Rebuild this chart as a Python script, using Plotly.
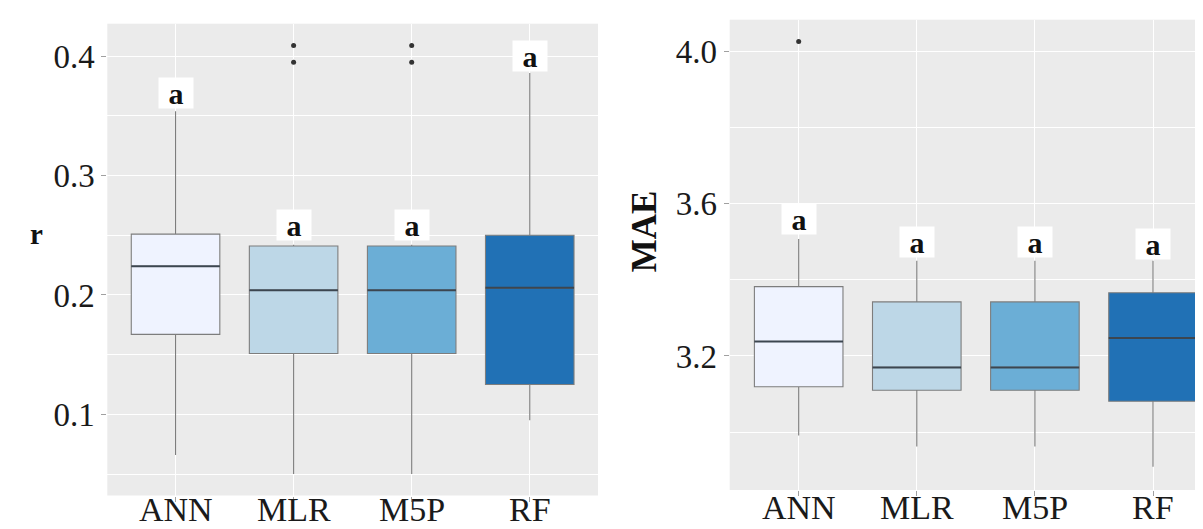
import plotly.graph_objects as go

# ---------------- data ----------------
categories = ["ANN", "MLR", "M5P", "RF"]
positions = [1, 2, 3, 4]
fill_colors = ["#EFF3FF", "#BDD7E7", "#6BAED6", "#2171B5"]

# Panel 1: r
r_lower = [0.066, 0.050, 0.050, 0.095]
r_q1 = [0.167, 0.151, 0.151, 0.125]
r_median = [0.224, 0.204, 0.204, 0.206]
r_q3 = [0.251, 0.241, 0.241, 0.250]
r_upper = [0.354, 0.242, 0.242, 0.386]
r_outlier_x = [2, 2, 3, 3]
r_outlier_y = [0.395, 0.409, 0.395, 0.409]
r_letters = ["a", "a", "a", "a"]
r_letter_y = [0.369, 0.2585, 0.2585, 0.400]

# Panel 2: MAE
mae_lower = [2.991, 2.962, 2.962, 2.909]
mae_q1 = [3.119, 3.110, 3.110, 3.081]
mae_median = [3.238, 3.170, 3.170, 3.247]
mae_q3 = [3.382, 3.342, 3.342, 3.366]
mae_upper = [3.507, 3.450, 3.450, 3.450]
mae_outlier_x = [1]
mae_outlier_y = [4.026]
mae_letters = ["a", "a", "a", "a"]
mae_letter_y = [3.559, 3.500, 3.498, 3.493]

r_ticks = [0.1, 0.2, 0.3, 0.4]
mae_ticks = [3.2, 3.6, 4.0]

# ---------------- style ----------------
FONT = "Liberation Serif"
BOX_WIDTH = 0.75
PANEL_BG = "#EBEBEB"
W, H = 1203, 529

fig = go.Figure()


def add_panel(xa, ya, lower, q1, med, q3, upper, ox, oy, letters, ly, label_base):
    for i, pos in enumerate(positions):
        fig.add_trace(go.Box(
            x=[pos], q1=[q1[i]], median=[med[i]], q3=[q3[i]],
            lowerfence=[lower[i]], upperfence=[upper[i]],
            orientation="v", width=BOX_WIDTH, whiskerwidth=0,
            fillcolor=fill_colors[i], line=dict(color="#7d7d7d", width=1.1),
            boxpoints=False, showlegend=False, xaxis=xa, yaxis=ya,
            name=categories[i]))
    mx, my = [], []
    for i, pos in enumerate(positions):
        mx += [pos - BOX_WIDTH / 2, pos + BOX_WIDTH / 2, None]
        my += [med[i], med[i], None]
    fig.add_trace(go.Scatter(x=mx, y=my, mode="lines",
                             line=dict(color="#3c4650", width=2),
                             showlegend=False, hoverinfo="skip",
                             xaxis=xa, yaxis=ya))
    fig.add_trace(go.Scatter(x=ox, y=oy, mode="markers",
                             marker=dict(color="#333333", size=5),
                             showlegend=False, xaxis=xa, yaxis=ya))
    xref = "x" if xa == "x" else "x2"
    yref = "y" if ya == "y" else "y2"
    for i, pos in enumerate(positions):
        fig.add_annotation(x=pos, y=ly[i], xref=xref, yref=yref,
                           text="<b>%s</b>" % letters[i], showarrow=False,
                           font=dict(family=FONT, size=30, color="#111111"),
                           bgcolor="white", width=32, height=28,
                           xanchor="center", yanchor="middle")
    # category labels (x tick labels)
    for i, pos in enumerate(positions):
        fig.add_annotation(x=pos, y=1 - label_base / H, xref=xref, yref="paper",
                           text=categories[i], showarrow=False, borderpad=0,
                           font=dict(family=FONT, size=34, color="#1a1a1a"),
                           xanchor="center", yanchor="bottom")


add_panel("x", "y", r_lower, r_q1, r_median, r_q3, r_upper,
          r_outlier_x, r_outlier_y, r_letters, r_letter_y, 521.0)
add_panel("x2", "y2", mae_lower, mae_q1, mae_median, mae_q3, mae_upper,
          mae_outlier_x, mae_outlier_y, mae_letters, mae_letter_y, 519.0)

common_x = dict(tickmode="array", tickvals=positions, showticklabels=False,
                showgrid=True, gridcolor="white", gridwidth=1,
                zeroline=False, showline=False,
                ticks="outside", ticklen=5, tickcolor="#a0a0a0", tickwidth=1)
common_y = dict(tickmode="array", showgrid=True, gridcolor="white",
                gridwidth=1.2, zeroline=False, showline=False,
                ticks="outside", ticklen=5, tickcolor="#a0a0a0", tickwidth=1,
                tickfont=dict(family=FONT, size=33, color="#1a1a1a"))

fig.update_layout(
    width=W, height=H,
    margin=dict(l=0, r=0, t=0, b=0),
    paper_bgcolor="white", plot_bgcolor=PANEL_BG,
    xaxis=dict(domain=[99.3 / W, 590 / W], range=[0.422, 4.578],
               anchor="y", **common_x),
    yaxis=dict(domain=[1 - 487.5 / H, 1 - 15.7 / H], range=[0.032, 0.4273],
               anchor="x", tickvals=r_ticks, ticktext=["%.1f" % t for t in r_ticks],
               minor=dict(dtick=0.1, tick0=0.05, showgrid=True,
                          gridcolor="white", gridwidth=0.6, ticklen=0),
               **common_y),
    xaxis2=dict(domain=[721.7 / W, 1.0], range=[0.416, 4.491],
                anchor="y2", **common_x),
    yaxis2=dict(domain=[1 - 482 / H, 1 - 11.7 / H], range=[2.848, 4.083],
                anchor="x2", tickvals=mae_ticks,
                ticktext=["%.1f" % t for t in mae_ticks],
                minor=dict(dtick=0.4, tick0=3.0, showgrid=True,
                           gridcolor="white", gridwidth=0.6, ticklen=0),
                **common_y),
)

fig.add_annotation(x=19.7 / W, y=1 - 226 / H, xref="paper", yref="paper",
                   text="<b>r</b>", showarrow=False,
                   font=dict(family=FONT, size=29, color="#111111"))
fig.add_annotation(x=636.5 / W, y=1 - 223.7 / H, xref="paper", yref="paper",
                   text="<b>MAE</b>", showarrow=False, textangle=-90,
                   font=dict(family=FONT, size=35, color="#111111"))

fig.write_html("out.html")
